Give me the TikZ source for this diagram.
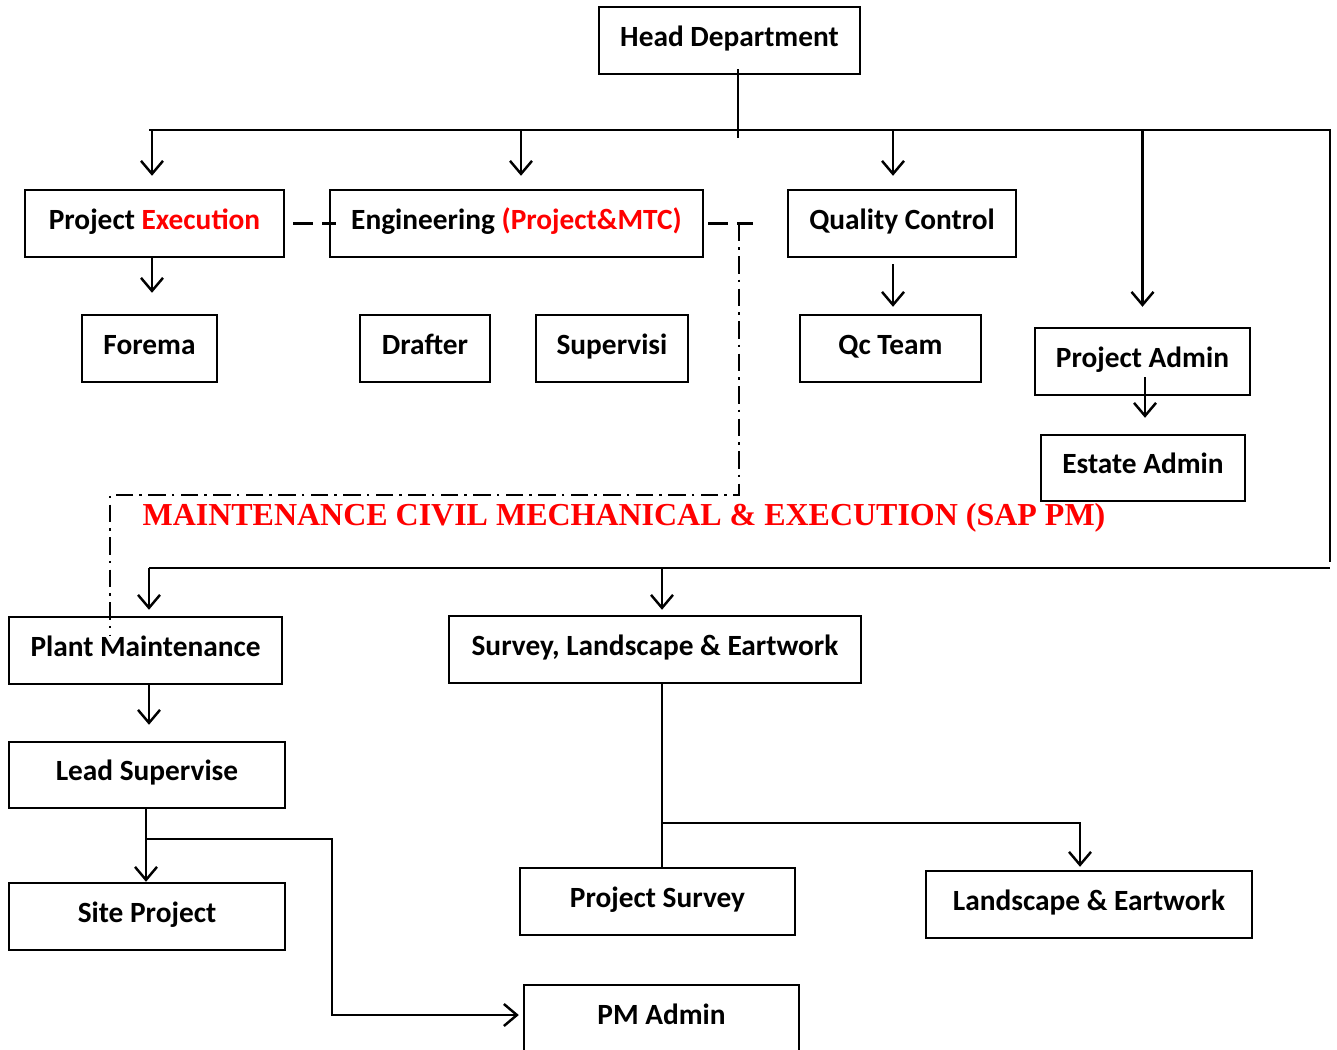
\documentclass[tikz,border=0pt]{standalone}
\usepackage{fontspec}
\setmainfont{Carlito}
\newfontfamily\titlefont{Liberation Serif}
\usetikzlibrary{arrows.meta,calc}
\begin{document}
\begin{tikzpicture}[x=0.02cm,y=-0.02cm,
 box/.style={draw, line width=1.4pt, inner sep=0pt, minimum height=1.34cm, text height=10.7pt, text depth=4.1pt, font=\fontsize{16.7}{20}\selectfont\bfseries},
 conn/.style={line width=1.4pt},
 arr/.style={conn,-{Straight Barb[length=2.6mm,width=4.4mm]}},
 dsh/.style={line width=1.4pt, dash pattern=on 11pt off 5.5pt},
 dshdot/.style={line width=1.2pt, dash pattern=on 10pt off 3.5pt on 1.5pt off 3.5pt}]
\fill[white] (0,0) rectangle (1337,1050);
\useasboundingbox (0,0) rectangle (1337,1050);

% boxes
\node[box, minimum width=5.22cm] (head) at (729.5,40.5) {Head Department};
\node[box, minimum width=5.18cm] (pe) at (154.5,223.5) {Project \textcolor{red}{Execution}};
\node[box, minimum width=7.46cm] (eng) at (516.5,223.5) {Engineering \textcolor{red}{(Project\&MTC)}};
\node[box, minimum width=4.56cm] (qc) at (902,223.5) {Quality Control};
\node[box, minimum width=2.7cm] (forema) at (149.5,348.5) {Forema};
\node[box, minimum width=2.6cm] (drafter) at (425,348.5) {Drafter};
\node[box, minimum width=3.04cm] (supervisi) at (612,348.5) {Supervisi};
\node[box, minimum width=3.62cm] (qcteam) at (890.5,348.5) {Qc Team};
\node[box, minimum width=4.3cm] (padmin) at (1142.5,361.5) {Project Admin};
\node[box, minimum width=4.08cm, minimum height=1.32cm] (estate) at (1143,468) {Estate Admin};
\node[box, minimum width=5.46cm] (plant) at (145.5,650.5) {Plant Maintenance};
\node[box, minimum width=8.24cm] (survey) at (655,649.5) {Survey, Landscape \& Eartwork};
\node[box, minimum width=5.52cm, minimum height=1.32cm] (lead) at (147,775) {Lead Supervise};
\node[box, minimum width=5.52cm] (site) at (147,916.5) {Site Project};
\node[box, minimum width=5.5cm] (psurvey) at (657.5,901.5) {Project Survey};
\node[box, minimum width=6.52cm] (landscape) at (1089,904.5) {Landscape \& Eartwork};
\node[box, minimum width=5.5cm] (pmadmin) at (661.5,1018.5) {PM Admin};

\node[font=\titlefont\fontsize{18.2}{22}\selectfont\bfseries, text=red, inner sep=0pt] (title) at (624,518) {MAINTENANCE CIVIL MECHANICAL \& EXECUTION (SAP PM)};

% buses
\coordinate (topL) at (149,130);
\coordinate (topR) at (1330,130);
\coordinate (rightend) at (1330,562);
\coordinate (botL) at (149,568);
\coordinate (botR) at (1330,568);
\draw[conn] (topL) -- (topR) -- (rightend);
\draw[conn] (botL) -- (botR);

% head line
\draw[conn] ([xshift=0.17cm,yshift=0.12cm]head.south) -- ([xshift=0.17cm,yshift=-0.16cm]head.south |- topL);

% arrows from top bus
\draw[arr, shorten >=0.26cm] ([xshift=-0.05cm]pe.north |- topL) -- ([xshift=-0.05cm]pe.north);
\draw[arr, shorten >=0.26cm] ([xshift=0.09cm]eng.north |- topL) -- ([xshift=0.09cm]eng.north);
\draw[arr, shorten >=0.26cm] ([xshift=-0.18cm]qc.north |- topL) -- ([xshift=-0.18cm]qc.north);
\draw[arr, shorten >=0.4cm] (padmin.north |- topL) -- (padmin.north);

% second level
\draw[arr, shorten >=0.42cm] ([xshift=-0.05cm]pe.south) -- ([xshift=-0.05cm]pe.south |- forema.north);
\draw[arr, shorten <=0.12cm, shorten >=0.14cm] ([xshift=-0.18cm]qc.south) -- ([xshift=-0.18cm]qc.south |- qcteam.north);
\draw[arr, shorten <=-0.38cm, shorten >=0.32cm] ([xshift=0.05cm]padmin.south) -- ([xshift=0.05cm]padmin.south |- estate.north);

% dashed links
\draw[dsh] ([xshift=0.16cm]pe.east) -- ([xshift=0.14cm]eng.west);
\draw[dsh] ([xshift=0.08cm]eng.east) -- ++(45,0) coordinate (dd);
\draw[dshdot] ([xshift=0.7cm]eng.east) -- ++(0,271.5) -- ++(-629,0) -- ++(0,140);

% bottom bus arrows
\draw[arr, shorten >=0.12cm] ([xshift=0.07cm]plant.north |- botL) -- ([xshift=0.07cm]plant.north);
\draw[arr, shorten >=0.1cm] ([xshift=0.14cm]survey.north |- botL) -- ([xshift=0.14cm]survey.north);

% plant branch
\draw[arr, shorten >=0.32cm] ([xshift=0.07cm]plant.south) -- ([xshift=0.07cm]plant.south |- lead.north);
\draw[arr] ([xshift=-0.02cm]lead.south) -- ([xshift=-0.02cm]lead.south |- site.north);
\coordinate (j1) at ($([xshift=-0.02cm]lead.south)+(0,30)$);
\draw[arr, shorten >=0.08cm] (j1) -- ++(186,0) |- ([yshift=0.07cm]pmadmin.west);

% survey branch
\draw[conn] ([xshift=0.14cm]survey.south) -- ([xshift=0.14cm]survey.south |- psurvey.north);
\coordinate (j2) at ($([xshift=0.14cm]survey.south)+(0,139)$);
\draw[arr, shorten >=0.06cm] (j2) -| ([xshift=-0.18cm]landscape.north);
\end{tikzpicture}
\end{document}
